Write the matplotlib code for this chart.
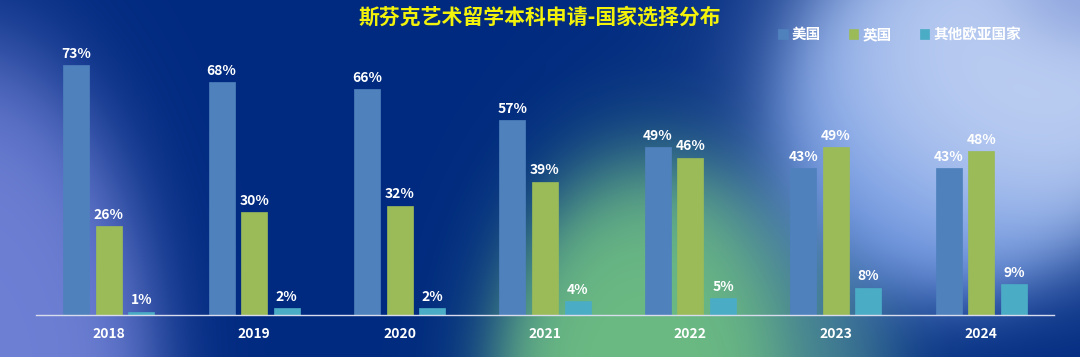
import numpy as np
import matplotlib
matplotlib.use("Agg")
import matplotlib.pyplot as plt

plt.rcParams['font.family'] = ['Noto Sans CJK SC', 'DejaVu Sans']

years = ["2018", "2019", "2020", "2021", "2022", "2023", "2024"]
series_names = ["美国", "英国", "其他欧亚国家"]
usa = [73, 68, 66, 57, 49, 43, 43]
uk = [26, 30, 32, 39, 46, 49, 48]
other = [1, 2, 2, 4, 5, 8, 9]
colors = ["#4f81bd", "#9bbb59", "#4bacc6"]
title = "斯芬克艺术留学本科申请-国家选择分布"

W, H = 1080, 357
fig = plt.figure(figsize=(W / 100, H / 100), dpi=100)

# blurred backdrop: dark blue with soft coloured patches
yy, xx = np.mgrid[0:H, 0:W].astype(float)
img = np.zeros((H, W, 3))
img[:] = np.array([0.0, 0.165, 0.50])


def patch(img, cx, cy, rx, ry, col, soft=0.14, strength=1.0):
    d = np.sqrt(((xx - cx) / rx) ** 2 + ((yy - cy) / ry) ** 2)
    w = strength / (1 + np.exp((d - 1) / soft))
    w = w[..., None]
    return img * (1 - w) + np.array(col) * w


img = patch(img, -40, 390, 195, 340, (0.43, 0.50, 0.83), soft=0.12)
img = patch(img, 710, 380, 180, 200, (0.30, 0.55, 0.58), soft=0.14, strength=0.85)
img = patch(img, 640, 390, 140, 215, (0.42, 0.73, 0.51), soft=0.16)
img = patch(img, 950, 125, 170, 170, (0.42, 0.58, 0.88), soft=0.13)
img = patch(img, 1060, 45, 230, 175, (0.74, 0.81, 0.95), soft=0.22)
img = patch(img, 1100, -20, 80, 60, (0.40, 0.50, 0.80), soft=0.3, strength=0.5)

bg = fig.add_axes([0, 0, 1, 1])
bg.imshow(img, aspect="auto", extent=[0, W, H, 0])
bg.axis("off")

ax = fig.add_axes([36 / W, 42 / H, 1018 / W, 275 / H])
ax.set_facecolor("none")

x = np.arange(len(years))
bw = 0.178
off = 0.224
for i, (vals, c) in enumerate(zip([usa, uk, other], colors)):
    pos = x + (i - 1) * off
    bars = ax.bar(pos, vals, width=bw, color=c, edgecolor=c, linewidth=0.5,
                  label=series_names[i], zorder=2)
    for b, v in zip(bars, vals):
        ax.annotate(f"{v}%", (b.get_x() + b.get_width() / 2, v),
                    xytext=(0, 3), textcoords="offset points",
                    ha="center", va="bottom", color="white",
                    fontsize=10, fontweight="bold")

ax.set_xlim(-0.5, len(years) - 0.5)
ax.set_ylim(0, 80.4)
ax.set_xticks(x)
ax.set_xticklabels(years, color="white", fontsize=10, fontweight="bold")
ax.tick_params(axis="x", length=0, pad=9)
ax.set_yticks([])
for s in ["top", "right", "left"]:
    ax.spines[s].set_visible(False)
ax.spines["bottom"].set_color("#d8dcec")
ax.spines["bottom"].set_linewidth(1.0)

fig.text(540 / W, 1 - 17 / H, title, ha="center", va="center",
         color="#f2f20a", fontsize=15, fontweight="bold")

leg = fig.legend(loc="center left", bbox_to_anchor=(765 / W, 1 - 34 / H),
                 ncol=3, frameon=False, handlelength=0.65,
                 handleheight=0.65, handletextpad=0.3, columnspacing=1.9,
                 prop={"size": 10.5, "weight": "bold"}, labelcolor="white")

fig.savefig("out.png", dpi=100)
